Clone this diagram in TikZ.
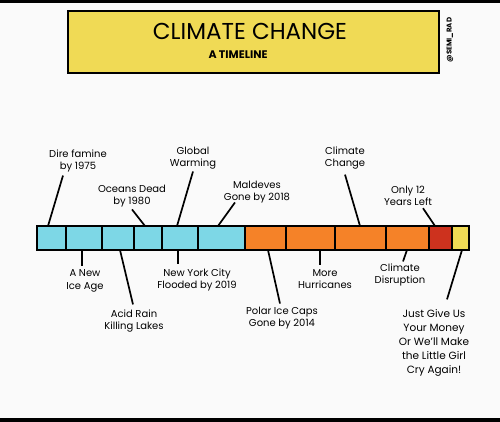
\documentclass[tikz,border=0pt]{standalone}
\usepackage{fontspec}
\setmainfont{Poppins}
\usetikzlibrary{calc}
\definecolor{ice}{RGB}{125,215,230}
\definecolor{heat}{RGB}{245,130,40}
\definecolor{hot}{RGB}{205,50,30}
\definecolor{sun}{RGB}{240,218,85}
\definecolor{paper}{RGB}{250,250,250}

\begin{document}
\begin{tikzpicture}[x=1pt,y=-1pt,
    lbl/.style={font=\fontsize{10}{12.5}\selectfont,align=center,inner sep=1pt},
    ln/.style={line width=1.7pt,black},
    seg/.style={draw=black,line width=1.9pt}]
  \useasboundingbox (0,0) rectangle (500,422);
  \fill[paper] (0,0) rectangle (500,422);
  \fill[black] (0,0) rectangle (500,3);
  \fill[black] (0,418) rectangle (500,422);
  % title box
  \node[draw=black,line width=2.4pt,fill=sun,minimum width=371pt,
        minimum height=62pt,anchor=north west] (title) at (67,10) {};
  \node[font=\fontsize{23}{23}\selectfont] (head) at (250,31) {CLIMATE CHANGE};
  \node[font=\bfseries\fontsize{11}{11}\selectfont] (sub) at (238,55) {A TIMELINE};
  \node[rotate=90,font=\bfseries\fontsize{7}{7}\selectfont] (tag) at (450,40) {@SEMI\_RAD};
  % the bar
  \foreach \a/\b/\c in {37/66/ice,66/102/ice,102/134/ice,134/162/ice,
      162/198/ice,198/245/ice,245/286/heat,286/335/heat,335/386/heat,
      386/429/heat,429/452/hot,452/469/sun}
    \filldraw[seg,fill=\c] (\a,226) rectangle (\b,250);
  % points on the bar
  \coordinate (t1) at (48,226);
  \coordinate (t2) at (145,226);
  \coordinate (t3) at (177,226);
  \coordinate (t4) at (218,226);
  \coordinate (t5) at (360,226);
  \coordinate (t6) at (435,226);
  \coordinate (b1) at (82,250);
  \coordinate (b2) at (120,250);
  \coordinate (b3) at (178,250);
  \coordinate (b4) at (268,250);
  \coordinate (b5) at (320,250);
  \coordinate (b6) at (407,250);
  \coordinate (b7) at (462,250);
  % above
  \node[lbl] (dire) at (78,161) {Dire famine\\by 1975};
  \node[lbl] (glob) at (193,158) {Global\\Warming};
  \node[lbl] (ocean) at (132,196) {Oceans Dead\\by 1980};
  \node[lbl] (mald) at (257,192) {Maldeves\\Gone by 2018};
  \node[lbl] (cchg) at (345,158) {Climate\\Change};
  \node[lbl] (only) at (408,196) {Only 12\\Years Left};
  \draw[ln] ($(dire.south)+(-15,2)$) -- (t1);
  \draw[ln] ($(ocean.south)+(0,1)$) -- (t2);
  \draw[ln] ($(glob.south)+(0,1)$) -- (t3);
  \draw[ln] ($(mald.south)+(-22,-2)$) -- (t4);
  \draw[ln] ($(cchg.south)+(0,4)$) -- (t5);
  \draw[ln] ($(only.south)+(15,1)$) -- (t6);
  % below
  \node[lbl] (iceage) at (85,281) {A New\\Ice Age};
  \node[lbl] (acid) at (134,321) {Acid Rain\\Killing Lakes};
  \node[lbl] (nyc) at (197,280) {New York City\\Flooded by 2019};
  \node[lbl] (polar) at (282,318) {Polar Ice Caps\\Gone by 2014};
  \node[lbl] (hurr) at (325,279) {More\\Hurricanes};
  \node[lbl] (disr) at (400,275) {Climate\\Disruption};
  \node[lbl,font=\fontsize{10.5}{14}\selectfont] (money) at (434,343)
    {Just Give Us\\Your Money\\Or We'll Make\\the Little Girl\\Cry Again!};
  \draw[ln] (b1) -- ($(iceage.north)+(-3,-3)$);
  \draw[ln] (b2) -- ($(acid.north)+(-1,-4)$);
  \draw[ln] (b3) -- ($(nyc.north)+(-19,-3)$);
  \draw[ln] (b4) -- ($(polar.north)+(-2,-2)$);
  \draw[ln] (b5) -- ($(hurr.north)+(-5,-3)$);
  \draw[ln] (b6) -- ($(disr.north)+(3,-1)$);
  \draw[ln] (b7) -- ($(money.north)+(13,-9)$);
\end{tikzpicture}
\end{document}
